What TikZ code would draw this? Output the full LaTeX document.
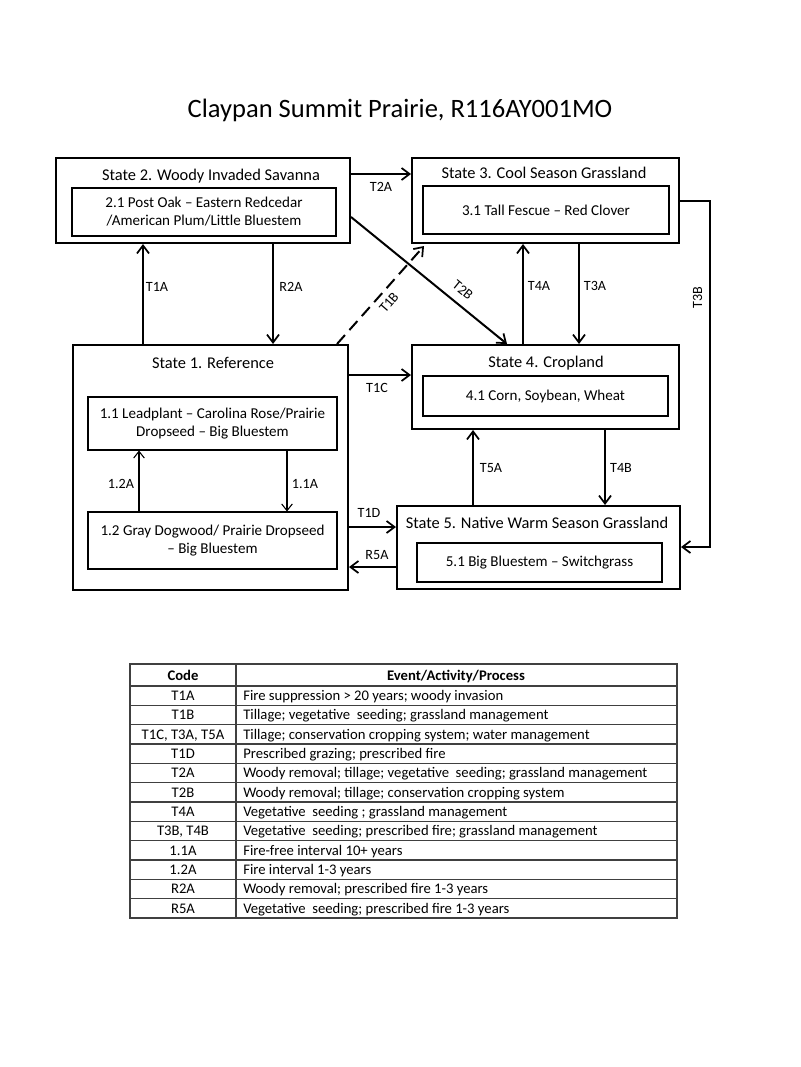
\documentclass[tikz,border=0pt]{standalone}
\usepackage{fontspec}
\setmainfont{Carlito}
\usetikzlibrary{arrows.meta,calc}
\begin{document}
\begin{tikzpicture}[x=0.75pt,y=-0.75pt,
  outerbox/.style 2 args={draw, line width=1.5pt, minimum width={#1*0.75pt}, minimum height={#2*0.75pt}, inner sep=0pt},
  innerbox/.style 2 args={draw, line width=0.8pt, minimum width={#1*0.75pt}, minimum height={#2*0.75pt}, inner sep=0pt, align=center, font=\fontsize{11.3}{13.5}\selectfont},
  stitle/.style={font=\fontsize{12.3}{14}\selectfont, inner sep=0pt, anchor=mid, yshift=-1.5pt},
  lbl/.style={font=\fontsize{10.6}{12}\selectfont, inner sep=0pt, anchor=mid, yshift=-1pt},
  arr/.style={line width=1.5pt, -{Straight Barb[length=6pt,width=9pt,line width=1.3pt]}},
  thinarr/.style={line width=0.8pt, -{Straight Barb[length=5pt,width=8pt,line width=0.8pt]}},
  tcell/.style={font=\fontsize{11}{12}\selectfont, inner sep=0pt, anchor=mid, yshift=-1.2pt},
  tline/.style={line width=0.9pt, draw=black!75}
]
\useasboundingbox (0,0) rectangle (800,1067);

\node[font=\fontsize{19.9}{23}\selectfont, inner sep=0pt, anchor=mid, yshift=-1.5pt] (title) at (400,112) {Claypan Summit Prairie, R116AY001MO};

% State boxes
\node[outerbox={294}{85}] (s2) at (203,200.5) {};
\node[stitle] (s2t) at (211,175) {State 2. Woody Invaded Savanna};
\node[innerbox={264}{48}] (s2i) at (204,212) {2.1 Post Oak -- Eastern Redcedar\\/American Plum/Little Bluestem};

\node[outerbox={267}{85}] (s3) at (545.5,200.5) {};
\node[stitle] (s3t) at (544,173) {State 3. Cool Season Grassland};
\node[innerbox={246}{48}] (s3i) at (546,210) {3.1 Tall Fescue -- Red Clover};

\node[outerbox={275}{245}] (s1) at (210.5,467.5) {};
\node[stitle] (s1t) at (213,363) {State 1. Reference};
\node[innerbox={249}{53}] (s11) at (212.5,423.5) {1.1 Leadplant -- Carolina Rose/Prairie\\Dropseed -- Big Bluestem};
\node[innerbox={249}{57}] (s12) at (212.5,540.5) {1.2 Gray Dogwood/ Prairie Dropseed\\-- Big Bluestem};

\node[outerbox={267}{84}] (s4) at (545.5,387) {};
\node[stitle] (s4t) at (546,362) {State 4. Cropland};
\node[innerbox={245}{40}] (s4i) at (545.5,396) {4.1 Corn, Soybean, Wheat};

\node[outerbox={283}{83}] (s5) at (538.5,547.5) {};
\node[stitle] (s5t) at (537,523) {State 5. Native Warm Season Grassland};
\node[innerbox={245}{39}] (s5i) at (539.5,562.5) {5.1 Big Bluestem -- Switchgrass};

% Transitions
\draw[arr] (s1.north -| 143,0) -- (s2.south -| 143,0);
\node[lbl] (lT1A) at (157,287) {T1A};
\draw[arr] (s2.south -| 273,0) -- (s1.north -| 273,0);
\node[lbl] (lR2A) at (291,287) {R2A};

\draw[arr] (s2.east |- 0,174) -- (s3.west |- 0,174);
\node[lbl] (lT2A) at (381,187) {T2A};

\draw[arr, dashed, dash pattern=on 9pt off 5pt] (s1.north -| 337,0) -- ($(s3.south -| 424,0)+(0,2)$);
\node[lbl, rotate=49] (lT1B) at (390,302) {T1B};

\draw[arr] (s2.east |- 0,217) -- (s4.north -| 507,0);
\node[lbl, rotate=-39] (lT2B) at (462,290) {T2B};

\draw[arr] (s4.north -| 523,0) -- (s3.south -| 523,0);
\node[lbl] (lT4A) at (539,286) {T4A};
\draw[arr] (s3.south -| 579,0) -- (s4.north -| 579,0);
\node[lbl] (lT3A) at (595,286) {T3A};

\coordinate (c3a) at (710,201);
\coordinate (c3b) at (710,547);
\draw[arr] (s3.east |- c3a) -- (c3a) -- (c3b) -- (s5.east |- c3b);
\node[lbl, rotate=90] (lT3B) at (699,296) {T3B};

\draw[arr] (s1.east |- 0,375) -- (s4.west |- 0,375);
\node[lbl] (lT1C) at (377,388) {T1C};

\draw[arr] (s5.north -| 473,0) -- (s4.south -| 473,0);
\node[lbl] (lT5A) at (491,468) {T5A};
\draw[arr] (s4.south -| 605,0) -- (s5.north -| 605,0);
\node[lbl] (lT4B) at (621,468) {T4B};

\draw[arr] (s1.east |- 0,527) -- (s5.west |- 0,527);
\node[lbl] (lT1D) at (369,513) {T1D};
\draw[arr] (s5.west |- 0,567) -- (s1.east |- 0,567);
\node[lbl] (lR5A) at (377,555) {R5A};

\draw[thinarr] (s12.north -| 139,0) -- (s11.south -| 139,0);
\node[lbl] (l12A) at (121,484) {1.2A};
\draw[thinarr] (s11.south -| 287,0) -- (s12.north -| 287,0);
\node[lbl] (l11A) at (305,484) {1.1A};

% Table
\draw[tline] (130,664) rectangle (677,918);
\draw[tline] (236,664) -- (236,918);
\draw[tline] (130,686) -- (677,686);
\foreach \i in {1,...,11} {
  \draw[tline] (130,{686+\i*19.33}) -- (677,{686+\i*19.33});
}
\node[tcell, font=\bfseries\fontsize{11}{12}\selectfont] (h1) at (183,676) {Code};
\node[tcell, font=\bfseries\fontsize{11}{12}\selectfont] (h2) at (456,676) {Event/Activity/Process};
\foreach [count=\i] \c/\t in {
  T1A/{Fire suppression > 20 years; woody invasion},
  T1B/{Tillage; vegetative\ \ seeding; grassland management},
  {T1C, T3A, T5A}/{Tillage; conservation cropping system; water management},
  T1D/{Prescribed grazing; prescribed fire},
  T2A/{Woody removal; tillage; vegetative\ \ seeding; grassland management},
  T2B/{Woody removal; tillage; conservation cropping system},
  T4A/{Vegetative\ \ seeding ; grassland management},
  {T3B, T4B}/{Vegetative\ \ seeding; prescribed fire; grassland management},
  1.1A/{Fire-free interval 10+ years},
  1.2A/{Fire interval 1-3 years},
  R2A/{Woody removal; prescribed fire 1-3 years},
  R5A/{Vegetative\ \ seeding; prescribed fire 1-3 years}} {
  \node[tcell] (c\i) at (183,{686+(\i-0.5)*19.33}) {\c};
  \node[tcell, anchor=mid west] (e\i) at (243,{686+(\i-0.5)*19.33}) {\t};
}
\end{tikzpicture}
\end{document}
